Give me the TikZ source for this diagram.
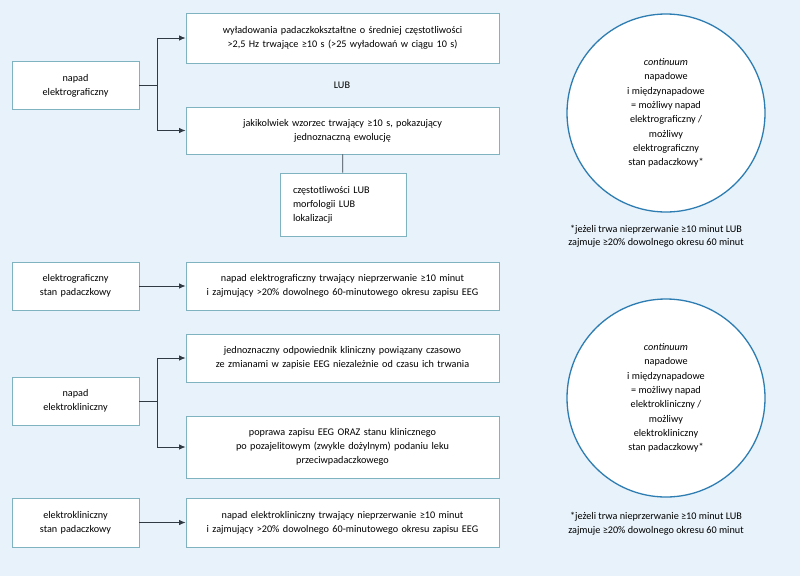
\documentclass[tikz,border=0pt]{standalone}
\usepackage{fontspec}
\setmainfont{Carlito}
\usepackage{tikz}
\usetikzlibrary{arrows.meta}
\definecolor{bgblue}{HTML}{E8F2FA}
\definecolor{boxline}{HTML}{7FB3C0}
\definecolor{ringblue}{HTML}{2E7DB2}
\definecolor{wire}{HTML}{2F3A45}

\begin{document}
\begin{tikzpicture}[x=1pt,y=-1pt,>={Latex[length=6.5pt,width=5.5pt]}]
    \tikzstyle{box}=[draw=boxline,fill=white,line width=0.9pt,text=black,align=center,font=\fontsize{10.2}{14}\selectfont,inner sep=2pt]
    \tikzstyle{leftbox}=[box,minimum width=127pt,minimum height=48pt,text width=120pt]
    \tikzstyle{rightbox}=[box,minimum width=313pt,minimum height=48pt,text width=300pt]
    \tikzstyle{ring}=[draw=ringblue,fill=white,circle,line width=1.3pt,minimum size=198pt,align=center,font=\fontsize{10.2}{14.3}\selectfont]
    \tikzstyle{note}=[align=center,font=\fontsize{10.2}{13.5}\selectfont]
    \tikzstyle{edge} = [draw,wire,line width=0.8pt,->]
    \tikzstyle{edge2} = [draw,wire,line width=0.8pt,-]

    \fill[bgblue] (0,0) rectangle (800,576);
    \useasboundingbox (0,0) rectangle (800,576);

    % napad elektrograficzny
    \node[leftbox] (eg) at (75.5, 85.5) {napad\\elektrograficzny};
    \node[rightbox,minimum height=50pt] (eg1) at (342.5, 38) {wyładowania padaczkokształtne o średniej częstotliwości\\>2,5 Hz trwające ≥10 s (>25 wyładowań w ciągu 10 s)};
    \node[note,font=\fontsize{10.2}{14}\selectfont] (lub) at (342, 85) {LUB};
    \node[rightbox,minimum height=47pt] (eg2) at (342.5, 130.5) {jakikolwiek wzorzec trwający ≥10 s, pokazujący\\jednoznaczną ewolucję};
    \node[box,align=left,minimum width=126pt,minimum height=63pt,text width=100pt] (evo) at (343, 204.5) {częstotliwości LUB\\morfologii LUB\\lokalizacji};
    \coordinate (fork1) at (157, 85.5);

    % elektrograficzny stan padaczkowy
    \node[leftbox] (egs) at (75.5, 286) {elektrograficzny\\stan padaczkowy};
    \node[rightbox] (egs1) at (342.5, 286) {napad elektrograficzny trwający nieprzerwanie ≥10 minut\\i zajmujący >20\% dowolnego 60-minutowego okresu zapisu EEG};

    % napad elektrokliniczny
    \node[rightbox] (ek1) at (342.5, 358) {jednoznaczny odpowiednik kliniczny powiązany czasowo\\ze zmianami w zapisie EEG niezależnie od czasu ich trwania};
    \node[leftbox] (ek) at (75.5, 401) {napad\\elektrokliniczny};
    \node[rightbox,minimum height=62pt] (ek2) at (342.5, 447) {poprawa zapisu EEG ORAZ stanu klinicznego\\po pozajelitowym (zwykle dożylnym) podaniu leku\\przeciwpadaczkowego};
    \coordinate (fork2) at (157, 401);

    % elektrokliniczny stan padaczkowy
    \node[leftbox,minimum height=49pt] (eks) at (75.5, 522.5) {elektrokliniczny\\stan padaczkowy};
    \node[rightbox,minimum height=49pt] (eks1) at (342.5, 522.5) {napad elektrokliniczny trwający nieprzerwanie ≥10 minut\\i zajmujący >20\% dowolnego 60-minutowego okresu zapisu EEG};

    % continuum
    \node[ring] (c1) at (666, 113) {\textit{continuum}\\napadowe\\i międzynapadowe\\= możliwy napad\\elektrograficzny /\\możliwy\\elektrograficzny\\stan padaczkowy*};
    \node[note] (n1) at (656, 236.5) {*jeżeli trwa nieprzerwanie ≥10 minut LUB\\zajmuje ≥20\% dowolnego okresu 60 minut};
    \node[ring] (c2) at (666, 398) {\textit{continuum}\\napadowe\\i międzynapadowe\\= możliwy napad\\elektrokliniczny /\\możliwy\\elektrokliniczny\\stan padaczkowy*};
    \node[note] (n2) at (656, 523.5) {*jeżeli trwa nieprzerwanie ≥10 minut LUB\\zajmuje ≥20\% dowolnego okresu 60 minut};

    \path[edge2] (eg) -- (fork1);
    \path[edge] (fork1) |- (eg1);
    \path[edge] (fork1) |- (eg2);
    \path[edge2] (eg2) -- (evo);
    \path[edge] (egs) -- (egs1);
    \path[edge2] (ek) -- (fork2);
    \path[edge] (fork2) |- (ek1);
    \path[edge] (fork2) |- (ek2);
    \path[edge] (eks) -- (eks1);

    \end{tikzpicture}
\end{document}
